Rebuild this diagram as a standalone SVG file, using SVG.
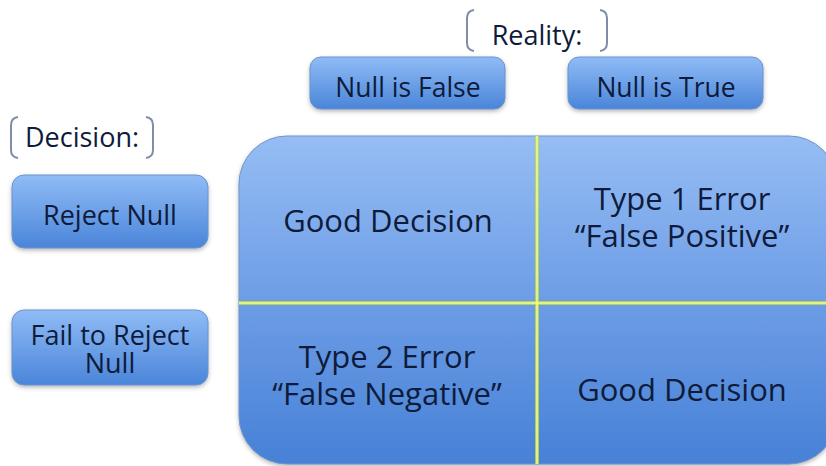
<svg xmlns="http://www.w3.org/2000/svg" width="826" height="466" viewBox="0 0 826 466">
<defs>
<linearGradient id="gBtn" x1="0" y1="0" x2="0" y2="1">
<stop offset="0" stop-color="#90bcf6"/>
<stop offset="1" stop-color="#4a85d9"/>
</linearGradient>
<linearGradient id="gBig" x1="0" y1="0" x2="0" y2="1">
<stop offset="0" stop-color="#96bdf4"/>
<stop offset="0.5" stop-color="#6d9de6"/>
<stop offset="1" stop-color="#4781d6"/>
</linearGradient>
<filter id="sh" x="-10%" y="-10%" width="120%" height="130%">
<feDropShadow dx="0" dy="2" stdDeviation="2" flood-color="#606060" flood-opacity="0.45"/>
</filter>
</defs>
<style>
.btn{fill:url(#gBtn);stroke:#6b94cf;stroke-width:1;filter:url(#sh)}
.big{fill:url(#gBig);stroke:#6f95cc;stroke-width:1;filter:url(#sh)}
.t{font-family:"Open Sans","Noto Sans","Liberation Sans",sans-serif;fill:#0e1b3b;text-anchor:middle}
.s{font-size:26.5px}
.m{font-size:27px}
.l{font-size:31px}
.br{fill:none;stroke:#7f8ea6;stroke-width:2}
.dg{stroke:#c2dc4a;stroke-width:4;opacity:0.8}
.dc{stroke:#f4ff8a;stroke-width:1.5}
</style>
<rect width="826" height="466" fill="#ffffff"/>

<g id="reality-label">
<path class="br" d="M474,10 Q467,11 467,18 L467,43 Q467,50 474,51"/>
<path class="br" d="M600,10 Q607,11 607,18 L607,43 Q607,50 600,51"/>
<text class="t m" x="537" y="45">Reality:</text>
</g>

<g id="null-false">
<rect class="btn" x="310" y="57" width="195" height="52" rx="11"/>
<text class="t s" x="408" y="97">Null is False</text>
</g>

<g id="null-true">
<rect class="btn" x="568" y="57" width="195" height="52" rx="11"/>
<text class="t s" x="666" y="97">Null is True</text>
</g>

<g id="decision-label">
<path class="br" d="M18,117 Q11,118 11,125 L11,150 Q11,157 18,158"/>
<path class="br" d="M146,117 Q153,118 153,125 L153,150 Q153,157 146,158"/>
<text class="t m" x="82" y="147">Decision:</text>
</g>

<g id="reject-null">
<rect class="btn" x="12" y="175" width="196" height="73" rx="12"/>
<text class="t m" x="110" y="225">Reject Null</text>
</g>

<g id="fail-to-reject">
<rect class="btn" x="12" y="310" width="196" height="75" rx="12"/>
<text class="t m" x="110" y="345">Fail to Reject</text>
<text class="t m" x="110" y="373">Null</text>
</g>

<g id="matrix">
<rect class="big" x="239" y="136" width="598" height="328" rx="48"/>
<line class="dg" x1="537" y1="136" x2="537" y2="464"/>
<line class="dg" x1="239" y1="303" x2="826" y2="303"/>
<line class="dc" x1="537" y1="136" x2="537" y2="464"/>
<line class="dc" x1="239" y1="303" x2="826" y2="303"/>
</g>

<g id="cell-good-1">
<text class="t l" x="388" y="232">Good Decision</text>
</g>
<g id="cell-type1">
<text class="t l" x="682" y="210">Type 1 Error</text>
<text class="t l" x="682" y="247">“False Positive”</text>
</g>
<g id="cell-type2">
<text class="t l" x="387" y="368">Type 2 Error</text>
<text class="t l" x="387" y="405">“False Negative”</text>
</g>
<g id="cell-good-2">
<text class="t l" x="682" y="401">Good Decision</text>
</g>
</svg>
